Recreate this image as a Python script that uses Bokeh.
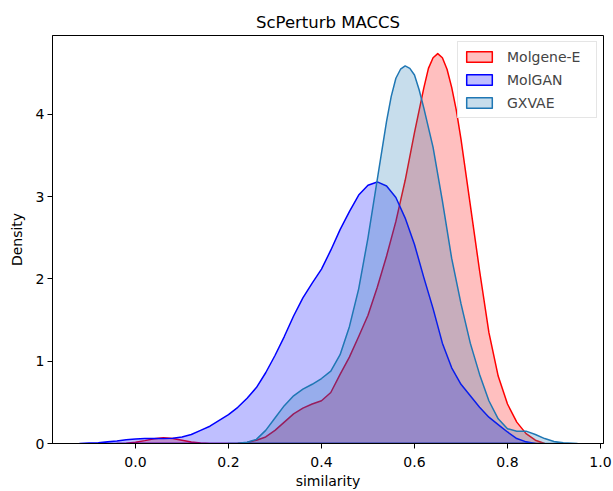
from bokeh.plotting import figure
from bokeh.models import Range1d, FixedTicker, Legend, LegendItem
from bokeh.embed import file_html
from bokeh.resources import INLINE

# ---- data ----
molgene_x = [-0.04, -0.02, 0.00, 0.02, 0.04, 0.06, 0.08, 0.10, 0.12, 0.14, 0.16, 0.18, 0.20,
             0.22, 0.24, 0.26, 0.28, 0.30, 0.32, 0.34, 0.36, 0.38, 0.40, 0.42, 0.44, 0.46,
             0.48, 0.50, 0.52, 0.54, 0.56, 0.58, 0.60, 0.62, 0.63, 0.64, 0.65, 0.66, 0.67,
             0.68, 0.69, 0.70, 0.72, 0.74, 0.76, 0.78, 0.80, 0.82, 0.84, 0.86, 0.88]
molgene_y = [0.0, 0.003, 0.015, 0.035, 0.058, 0.07, 0.062, 0.04, 0.018, 0.005, 0.0, 0.0, 0.0,
             0.002, 0.012, 0.04, 0.08, 0.16, 0.26, 0.36, 0.43, 0.48, 0.52, 0.62, 0.84, 1.05,
             1.30, 1.56, 1.90, 2.28, 2.70, 3.20, 3.78, 4.32, 4.56, 4.69, 4.74, 4.69, 4.55,
             4.33, 4.05, 3.70, 2.90, 2.10, 1.35, 0.82, 0.48, 0.26, 0.12, 0.04, 0.0]

molgan_x = [-0.12, -0.10, -0.08, -0.06, -0.04, -0.02, 0.00, 0.02, 0.04, 0.06, 0.08, 0.10,
            0.12, 0.14, 0.16, 0.18, 0.20, 0.22, 0.24, 0.26, 0.28, 0.30, 0.32, 0.34, 0.36,
            0.38, 0.40, 0.42, 0.44, 0.46, 0.48, 0.50, 0.52, 0.54, 0.56, 0.58, 0.60, 0.62,
            0.64, 0.66, 0.68, 0.70, 0.72, 0.74, 0.76, 0.78, 0.80, 0.82, 0.84, 0.86]
molgan_y = [0.0, 0.005, 0.01, 0.02, 0.03, 0.045, 0.055, 0.06, 0.06, 0.06, 0.065, 0.08,
            0.11, 0.16, 0.21, 0.28, 0.35, 0.44, 0.55, 0.68, 0.86, 1.07, 1.30, 1.55, 1.77,
            1.95, 2.12, 2.35, 2.60, 2.82, 3.02, 3.14, 3.18, 3.13, 2.99, 2.74, 2.42, 2.02,
            1.64, 1.22, 0.92, 0.72, 0.58, 0.44, 0.32, 0.23, 0.14, 0.06, 0.02, 0.0]

gxvae_x = [0.20, 0.22, 0.24, 0.26, 0.28, 0.30, 0.32, 0.34, 0.36, 0.38, 0.40, 0.42, 0.44,
           0.46, 0.48, 0.50, 0.52, 0.54, 0.55, 0.56, 0.57, 0.58, 0.59, 0.60, 0.61, 0.62,
           0.64, 0.66, 0.68, 0.70, 0.72, 0.74, 0.76, 0.78, 0.80, 0.82, 0.84, 0.86, 0.88,
           0.90, 0.92, 0.95]
gxvae_y = [0.0, 0.004, 0.015, 0.05, 0.16, 0.31, 0.46, 0.58, 0.66, 0.72, 0.79, 0.88, 1.08,
           1.42, 1.88, 2.50, 3.21, 3.92, 4.22, 4.44, 4.55, 4.59, 4.56, 4.48, 4.30, 4.08,
           3.60, 2.95, 2.25, 1.70, 1.22, 0.84, 0.52, 0.30, 0.18, 0.15, 0.15, 0.11, 0.06,
           0.025, 0.01, 0.0]

series_names = ["Molgene-E", "MolGAN", "GXVAE"]
series_colors = ["#ff0000", "#0000ff", "#1f77b4"]

x_ticks = [0.0, 0.2, 0.4, 0.6, 0.8, 1.0]
x_tick_labels = ["0.0", "0.2", "0.4", "0.6", "0.8", "1.0"]
y_ticks = [0, 1, 2, 3, 4]
y_tick_labels = ["0", "1", "2", "3", "4"]

FONT = "DejaVu Sans"

p = figure(width=613, height=491, output_backend="svg", toolbar_location=None,
           x_range=Range1d(-0.1785, 1.0065), y_range=Range1d(0, 4.96),
           min_border_left=52, min_border_right=10, min_border_top=35, min_border_bottom=47,
           title="ScPerturb MACCS")

p.title.align = "center"
p.title.offset = 21
p.title.text_font = FONT
p.title.text_font_size = "16.5px"
p.title.text_font_style = "normal"
p.title.text_color = "#000000"
p.title.standoff = 7

p.grid.visible = False
p.outline_line_color = "#000000"
p.outline_line_width = 1
p.outline_line_alpha = 1
p.background_fill_color = "white"
p.border_fill_color = "white"

series = [(molgene_x, molgene_y), (molgan_x, molgan_y), (gxvae_x, gxvae_y)]
items = []
for (xs, ys), name, col in zip(series, series_names, series_colors):
    r = p.patch(xs, ys, fill_color=col, fill_alpha=0.25, line_color=col, line_width=1.5,
                line_join="round")
    items.append(LegendItem(label=name, renderers=[r]))

legend = Legend(items=items, location="top_right")
legend.margin = 6
legend.padding = 5
legend.spacing = 4
legend.label_height = 19
legend.label_width = 84
legend.glyph_height = 13
legend.glyph_width = 32
legend.label_standoff = 12
legend.label_text_font = FONT
legend.label_text_font_size = "14px"
legend.border_line_color = "#cccccc"
legend.border_line_width = 1
legend.background_fill_alpha = 0.8
p.add_layout(legend)

for ax in (p.xaxis[0], p.yaxis[0]):
    ax.axis_line_color = "#000000"
    ax.major_tick_line_color = "#000000"
    ax.major_tick_out = 5
    ax.major_tick_in = 0
    ax.minor_tick_line_color = None
    ax.major_label_text_font = FONT
    ax.major_label_text_font_size = "14px"
    ax.major_label_text_color = "#000000"
    ax.axis_label_text_font = FONT
    ax.axis_label_text_font_size = "14px"
    ax.axis_label_text_font_style = "normal"
    ax.axis_label_text_color = "#000000"

p.xaxis.ticker = FixedTicker(ticks=x_ticks)
p.xaxis.major_label_overrides = {t: l for t, l in zip(x_ticks, x_tick_labels)}
p.yaxis.ticker = FixedTicker(ticks=y_ticks)
p.yaxis.major_label_overrides = {t: l for t, l in zip(y_ticks, y_tick_labels)}
p.xaxis.axis_label = "similarity"
p.yaxis.axis_label = "Density"
p.xaxis.major_label_standoff = 8
p.xaxis.axis_label_standoff = 3
p.yaxis.major_label_standoff = 3
p.yaxis.axis_label_standoff = 8

open("out.html", "w").write(file_html(p, INLINE))
